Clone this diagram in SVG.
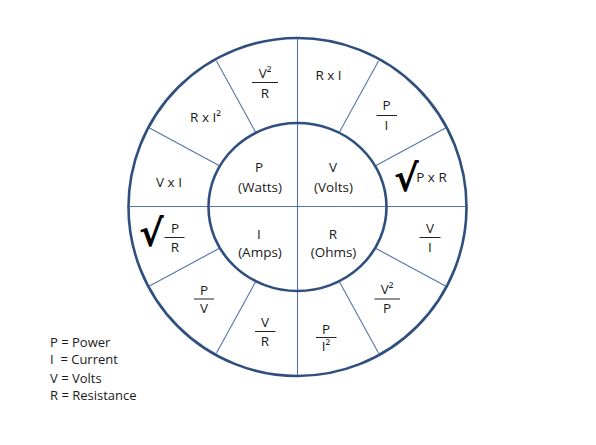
<svg xmlns="http://www.w3.org/2000/svg" width="596" height="445" viewBox="0 0 596 445">
<style>
.ring{fill:none;stroke:#2F4F7F;stroke-width:2.6}
.sp{stroke:#5375A8;stroke-width:1.1;fill:none}
.fl{stroke:#222;stroke-width:1}
text{font-family:"Open Sans","Liberation Sans",sans-serif;font-size:13.5px;fill:#1a1a1a;text-anchor:middle}
.lg{text-anchor:start;font-size:13px;white-space:pre}
.rt{font-family:"DejaVu Sans",sans-serif;font-weight:bold;font-size:37px;text-anchor:start;fill:#000}
</style>
<rect width="596" height="445" fill="#fff"/>
<g id="connectors">
<line class="sp" x1="297.5" y1="38" x2="297.5" y2="376"/>
<line class="sp" x1="128.5" y1="206.5" x2="466.5" y2="206.5"/>
<line class="sp" x1="376" y1="165.5" x2="445.5" y2="128"/>
<line class="sp" x1="339.5" y1="132" x2="378.5" y2="61"/>
<line class="sp" x1="255.5" y1="132" x2="216.5" y2="61"/>
<line class="sp" x1="219" y1="165.5" x2="149.5" y2="128"/>
<line class="sp" x1="219" y1="248.5" x2="149.5" y2="286"/>
<line class="sp" x1="255.5" y1="282" x2="216.5" y2="353"/>
<line class="sp" x1="339.5" y1="282" x2="378.5" y2="353"/>
<line class="sp" x1="376" y1="248.5" x2="445.5" y2="286"/>
</g>
<g id="outer-ring"><circle class="ring" cx="297.5" cy="207" r="169"/></g>
<g id="inner-ring"><ellipse class="ring" cx="297.5" cy="207" rx="89" ry="84"/></g>
<g id="n-power"><text x="259" y="172">P</text><text x="260" y="192">(Watts)</text></g>
<g id="n-volts"><text x="333" y="172">V</text><text x="333.5" y="192">(Volts)</text></g>
<g id="n-amps"><text x="259" y="238.5">I</text><text x="260" y="257">(Amps)</text></g>
<g id="n-ohms"><text x="333" y="238.5">R</text><text x="333.5" y="257">(Ohms)</text></g>
<g id="f-v2r"><text x="265" y="78">V²</text><line class="fl" x1="252" y1="82.5" x2="278" y2="82.5"/><text x="265" y="98">R</text></g>
<g id="f-rxi"><text x="328.5" y="79.5">R x I</text></g>
<g id="f-pi"><text x="386.5" y="110">P</text><line class="fl" x1="376.5" y1="115.5" x2="397" y2="115.5"/><text x="386.5" y="130">I</text></g>
<g id="f-sqrtpr"><text class="rt" x="394" y="191">√</text><text x="431.5" y="182">P x R</text></g>
<g id="f-vi"><text x="430" y="233">V</text><line class="fl" x1="419.5" y1="237.5" x2="440.5" y2="237.5"/><text x="430" y="252">I</text></g>
<g id="f-v2p"><text x="387" y="294">V²</text><line class="fl" x1="374.5" y1="299" x2="400" y2="299"/><text x="387" y="313">P</text></g>
<g id="f-pi2"><text x="326" y="334">P</text><line class="fl" x1="316" y1="337.5" x2="336.5" y2="337.5"/><text x="326" y="351">I²</text></g>
<g id="f-vr"><text x="265" y="327">V</text><line class="fl" x1="255" y1="331.5" x2="275.5" y2="331.5"/><text x="265" y="346">R</text></g>
<g id="f-pv"><text x="204" y="295">P</text><line class="fl" x1="194" y1="299" x2="214" y2="299"/><text x="204" y="313">V</text></g>
<g id="f-sqrtpr2"><text class="rt" x="139" y="246">√</text><line class="fl" x1="164.5" y1="237.5" x2="184.5" y2="237.5"/><text x="175" y="232.5">P</text><text x="175" y="252">R</text></g>
<g id="f-vxi"><text x="169" y="186.5">V x I</text></g>
<g id="f-rxi2"><text x="205.5" y="121.5">R x I²</text></g>
<g id="legend">
<text class="lg" x="50" y="346.5">P = Power</text>
<text class="lg" x="50" y="364">I  = Current</text>
<text class="lg" x="50" y="382.5">V = Volts</text>
<text class="lg" x="50" y="400">R = Resistance</text>
</g>
</svg>
